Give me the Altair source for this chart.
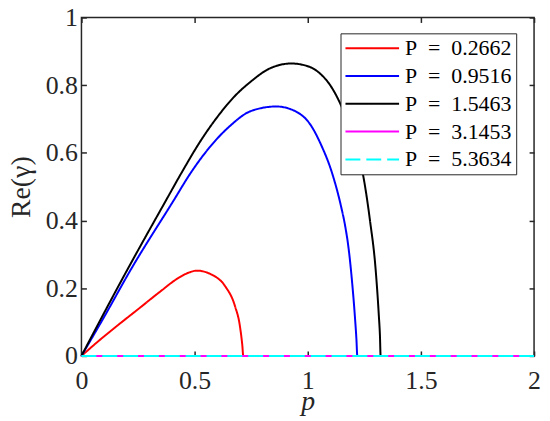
import altair as alt
import pandas as pd

# ---- data ----
series = ["P = 0.2662", "P = 0.9516", "P = 1.5463", "P = 3.1453", "P = 5.3634"]
colors = ["#ff0000", "#0000ff", "#000000", "#ff00ff", "#00ffff"]
dashes = [[1, 0], [1, 0], [1, 0], [1, 0], [15, 6]]

red_p = [0, 0.079, 0.167, 0.254, 0.342, 0.430, 0.470, 0.510, 0.576, 0.635, 0.678, 0.700, 0.711, 0.715, 2.0]
red_v = [0, 0.046, 0.094, 0.140, 0.187, 0.231, 0.245, 0.252, 0.240, 0.206, 0.148, 0.089, 0.030, 0.0, 0.0]

blue_p = [0, 0.10, 0.218, 0.408, 0.481, 0.561, 0.649, 0.751, 0.861, 0.942, 1.015, 1.058, 1.110,
          1.146, 1.165, 1.180, 1.195, 1.209, 1.215, 1.219, 2.0]
blue_v = [0, 0.115, 0.255, 0.460, 0.539, 0.612, 0.675, 0.724, 0.737, 0.724, 0.680, 0.625, 0.535,
          0.445, 0.385, 0.320, 0.225, 0.110, 0.050, 0.0, 0.0]

black_p = [0, 0.10, 0.203, 0.290, 0.374, 0.437, 0.532, 0.605, 0.678, 0.751, 0.825, 0.927, 1.000,
           1.058, 1.102, 1.139, 1.200, 1.246, 1.275, 1.300, 1.314, 1.319, 1.322, 2.0]
black_v = [0, 0.127, 0.255, 0.360, 0.460, 0.535, 0.641, 0.710, 0.768, 0.812, 0.847, 0.864, 0.856,
           0.832, 0.797, 0.752, 0.645, 0.529, 0.400, 0.255, 0.120, 0.060, 0.0, 0.0]

magenta_p = [0, 2.0]
magenta_v = [0, 0]
cyan_p = [0, 2.0]
cyan_v = [0, 0]

x_ticks = [0, 0.5, 1, 1.5, 2]
y_ticks = [0, 0.2, 0.4, 0.6, 0.8, 1]

# ---- table ----
rows = []
for name, ps, vs in zip(series,
                        [red_p, blue_p, black_p, magenta_p, cyan_p],
                        [red_v, blue_v, black_v, magenta_v, cyan_v]):
    for p, v in zip(ps, vs):
        rows.append({"series": name, "p": p, "v": v})
df = pd.DataFrame(rows)

W, H = 456, 341
FONT = "Liberation Serif, Times New Roman, DejaVu Serif, serif"
AX = "#262626"

xscale = alt.Scale(domain=[0, 2], nice=False, zero=False)
yscale = alt.Scale(domain=[0, 1], nice=False, zero=False)

legend = alt.Legend(
    title=None, orient="none", legendX=261, legendY=16,
    symbolType="stroke", symbolSize=2916, symbolStrokeWidth=2,
    labelFont=FONT, labelFontSize=22, labelColor="black", labelOffset=5,
    labelExpr="replace(datum.label, / /g, '\u2002')",
    fillColor="white", strokeColor=AX, padding=4, rowPadding=6,
    clipHeight=22, labelLimit=300,
)

lines = alt.Chart(df).mark_line(strokeWidth=2, interpolate="monotone").encode(
    x=alt.X("p:Q", scale=xscale, axis=alt.Axis(
        values=x_ticks, format="~g", title="p", ticks=False, tickSize=0, domain=False,
        grid=False, labelPadding=33, labelBaseline="alphabetic", labelFlush=False,
        titleY=54, titleBaseline="alphabetic", titleFontStyle="italic")),
    y=alt.Y("v:Q", scale=yscale, axis=alt.Axis(
        values=y_ticks, format="~g", title="Re(γ)", ticks=False, tickSize=0, domain=False,
        grid=False, labelPadding=4, labelFlush=False, titleX=-52, titleBaseline="alphabetic")),
    color=alt.Color("series:N", scale=alt.Scale(domain=series, range=colors), legend=legend),
    strokeDash=alt.StrokeDash("series:N", scale=alt.Scale(domain=series, range=dashes), legend=legend),
)

tick_df = pd.DataFrame({"p": [0, 2], "v": [0, 1]})

def tick_layer(xorient, yorient):
    return alt.Chart(tick_df).mark_point(opacity=0).encode(
        x=alt.X("p:Q", scale=xscale, axis=alt.Axis(
            orient=xorient, offset=-H, values=x_ticks, labels=False, domain=False,
            grid=False, title=None, ticks=True, tickSize=5, tickWidth=1.5, tickColor=AX)),
        y=alt.Y("v:Q", scale=yscale, axis=alt.Axis(
            orient=yorient, offset=-W, values=y_ticks, labels=False, domain=False,
            grid=False, title=None, ticks=True, tickSize=5, tickWidth=1.5, tickColor=AX)),
    )

chart = alt.layer(lines, tick_layer("top", "right"), tick_layer("bottom", "left")).resolve_axis(
    x="independent", y="independent"
).properties(
    width=W, height=H,
    autosize=alt.AutoSizeParams(type="none"),
    padding={"left": 74, "top": 8, "right": 8, "bottom": 60},
).configure_view(
    stroke=AX, strokeWidth=1.5
).configure_axis(
    labelFont=FONT, labelFontSize=26, labelColor=AX,
    titleFont=FONT, titleFontSize=28, titleColor=AX, titleFontWeight="normal",
)

chart.save("out.html", embed_options={"renderer": "svg", "actions": False})
